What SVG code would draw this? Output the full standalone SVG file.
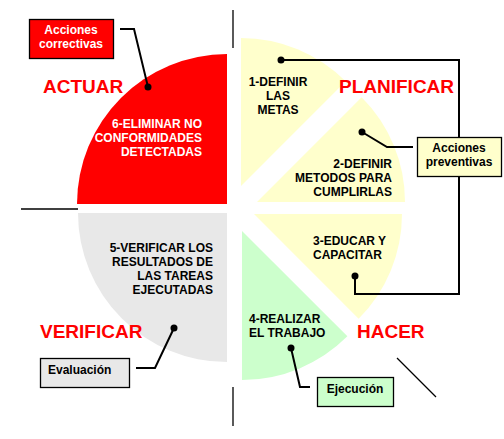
<svg xmlns="http://www.w3.org/2000/svg" width="504" height="439" viewBox="0 0 504 439">
<style>
  text { font-family: "Liberation Sans", Arial, sans-serif; font-weight: bold; }
  .t { font-size: 12px; fill: #000; }
  .w { font-size: 12px; fill: #fff; }
  .phase { font-size: 19px; fill: #ff0000; }
  .box { stroke: #000; stroke-width: 1.3; }
  .con { fill: none; stroke: #000; stroke-width: 2; }
  .thin { fill: none; stroke: #000; stroke-width: 1.3; }
  .dot { fill: #000; }
  .mid { text-anchor: middle; }
  .end { text-anchor: end; }
</style>
<rect width="504" height="439" fill="#fff"/>

<g id="step6">
  <path d="M227,204 L77,204 A150,150 0 0 1 227,54 Z" fill="#ff0000"/>
  <text class="w end" x="202" y="128">6-ELIMINAR NO</text>
  <text class="w end" x="202" y="142">CONFORMIDADES</text>
  <text class="w end" x="202" y="156">DETECTADAS</text>
</g>
<g id="step5">
  <path d="M227,213 L78,213 A149,149 0 0 0 227,362 Z" fill="#e8e8e8"/>
  <text class="t end" x="213" y="252">5-VERIFICAR LOS</text>
  <text class="t end" x="213" y="266">RESULTADOS DE</text>
  <text class="t end" x="213" y="280">LAS TAREAS</text>
  <text class="t end" x="213" y="294">EJECUTADAS</text>
</g>
<g id="step1">
  <path d="M241,186 L241,38 A148,148 0 0 1 345.65,81.35 Z" fill="#ffffcc"/>
  <text class="t mid" x="278" y="86">1-DEFINIR</text>
  <text class="t mid" x="278" y="100">LAS</text>
  <text class="t mid" x="278" y="114">METAS</text>
</g>
<g id="step2">
  <path d="M257,202 L405,202 A148,148 0 0 0 361.65,97.35 Z" fill="#ffffcc"/>
  <text class="t end" x="392" y="168">2-DEFINIR</text>
  <text class="t end" x="392" y="182">METODOS PARA</text>
  <text class="t end" x="392" y="196">CUMPLIRLAS</text>
</g>
<g id="step3">
  <path d="M254,214 L402,214 A148,148 0 0 1 358.65,318.65 Z" fill="#ffffcc"/>
  <text class="t" x="313" y="245">3-EDUCAR Y</text>
  <text class="t" x="313" y="259">CAPACITAR</text>
</g>
<g id="step4">
  <path d="M242,231 L347.36,336.36 A149,149 0 0 1 242,380 Z" fill="#ccffcc"/>
  <text class="t" x="249" y="323">4-REALIZAR</text>
  <text class="t" x="249" y="337">EL TRABAJO</text>
</g>

<g id="phase-actuar"><text class="phase" x="43" y="93">ACTUAR</text></g>
<g id="phase-planificar"><text class="phase" x="339" y="93">PLANIFICAR</text></g>
<g id="phase-hacer"><text class="phase" x="357" y="338">HACER</text></g>
<g id="phase-verificar"><text class="phase" x="40" y="338">VERIFICAR</text></g>

<g id="axes">
  <line class="thin" x1="233" y1="10" x2="233" y2="48"/>
  <line class="thin" x1="21" y1="209" x2="78" y2="209"/>
  <line class="thin" x1="233" y1="387" x2="233" y2="426"/>
  <line class="thin" x1="397" y1="358" x2="436" y2="397"/>
</g>

<g id="connectors">
  <polyline class="con" points="120,29 134,29 148,87"/>
  <circle class="dot" cx="148" cy="87" r="3.5"/>
  <polyline class="con" points="281,60 459,60 459,294 355,294 355,276"/>
  <circle class="dot" cx="281" cy="60" r="3.5"/>
  <circle class="dot" cx="355" cy="276" r="3.5"/>
  <polyline class="con" points="413,147 387,147 362,132"/>
  <circle class="dot" cx="362" cy="132" r="3.5"/>
  <polyline class="con" points="174,328 155,368 136,368"/>
  <circle class="dot" cx="174" cy="328" r="3.5"/>
  <polyline class="con" points="291,348 300,387 310,387"/>
  <circle class="dot" cx="291" cy="348" r="3.5"/>
</g>

<g id="acciones-correctivas">
  <rect class="box" x="29.5" y="19.5" width="84" height="39" fill="#ff0000"/>
  <text class="w mid" x="71" y="34">Acciones</text>
  <text class="w mid" x="71" y="48">correctivas</text>
</g>
<g id="acciones-preventivas">
  <rect class="box" x="417.5" y="137.5" width="84" height="39" fill="#ffffcc"/>
  <text class="t mid" x="459" y="152">Acciones</text>
  <text class="t mid" x="459" y="166">preventivas</text>
</g>
<g id="evaluacion">
  <rect class="box" x="40.5" y="358.5" width="89" height="29" fill="#e8e8e8"/>
  <text class="t" x="48" y="374">Evaluación</text>
</g>
<g id="ejecucion">
  <rect class="box" x="317.5" y="377.5" width="76" height="29" fill="#ccffcc"/>
  <text class="t mid" x="355" y="393">Ejecución</text>
</g>
</svg>
